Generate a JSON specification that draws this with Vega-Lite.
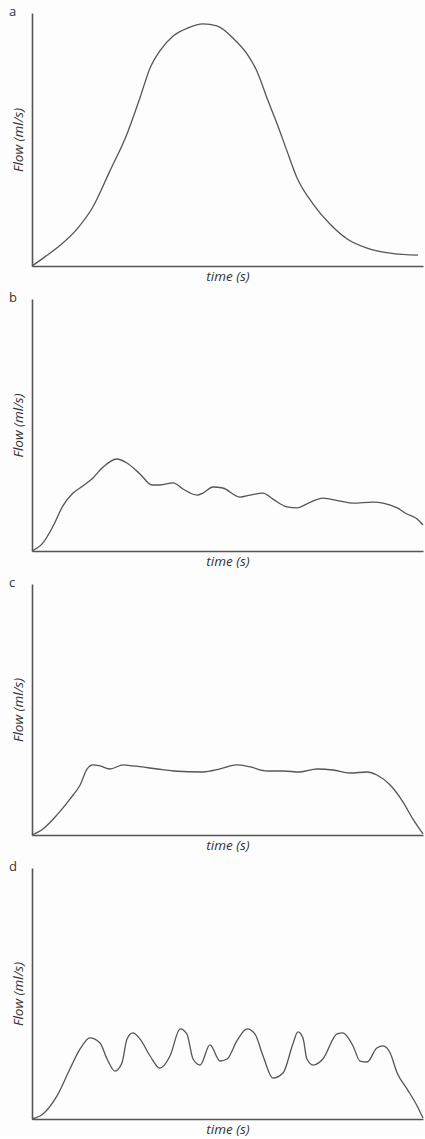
{
  "$schema": "https://vega.github.io/schema/vega-lite/v6.json",
  "background": "#fdfdfd",
  "padding": {"left": 9, "top": 6, "right": 0, "bottom": 0},
  "config": {
    "view": {"stroke": null},
    "concat": {"spacing": 9},
    "axis": {
      "domain": true, "domainColor": "#555555", "domainWidth": 1.6,
      "ticks": false, "labels": false, "grid": false,
      "titleFont": "Open Sans", "titleFontStyle": "italic", "titleFontWeight": "normal",
      "titleFontSize": 13.5, "titleColor": "#333333"
    },
    "title": {"font": "Open Sans", "fontSize": 13, "fontWeight": "normal", "color": "#333333", "anchor": "start", "frame": "group", "offset": -4, "dx": -23, "dy": 2}
  },
  "datasets": {
    "flow": [
      {"panel": "a", "t": 0, "f": 0}, {"panel": "a", "t": 3.3, "f": 3.6}, {"panel": "a", "t": 7.2, "f": 8.2}, {"panel": "a", "t": 11.5, "f": 14.6}, {"panel": "a", "t": 15.6, "f": 23.4}, {"panel": "a", "t": 19.9, "f": 37.5}, {"panel": "a", "t": 24.3, "f": 52.2}, {"panel": "a", "t": 27.6, "f": 66.4}, {"panel": "a", "t": 30.2, "f": 78.3}, {"panel": "a", "t": 32.7, "f": 85.0}, {"panel": "a", "t": 36.1, "f": 90.9}, {"panel": "a", "t": 39.9, "f": 94.1}, {"panel": "a", "t": 43.7, "f": 95.7}, {"panel": "a", "t": 47.3, "f": 94.9}, {"panel": "a", "t": 51.4, "f": 90.1}, {"panel": "a", "t": 55.0, "f": 83.8}, {"panel": "a", "t": 57.5, "f": 77.1}, {"panel": "a", "t": 60.1, "f": 66.4}, {"panel": "a", "t": 62.7, "f": 56.1}, {"panel": "a", "t": 65.2, "f": 45.5}, {"panel": "a", "t": 67.8, "f": 34.8}, {"panel": "a", "t": 71.9, "f": 24.5}, {"panel": "a", "t": 76.2, "f": 16.6}, {"panel": "a", "t": 80.6, "f": 10.7}, {"panel": "a", "t": 85.7, "f": 7.1}, {"panel": "a", "t": 91.6, "f": 5.1}, {"panel": "a", "t": 98.7, "f": 4.3},
      {"panel": "b", "t": 0, "f": 0}, {"panel": "b", "t": 2.8, "f": 3.2}, {"panel": "b", "t": 5.4, "f": 9.9}, {"panel": "b", "t": 7.9, "f": 17.9}, {"panel": "b", "t": 10.5, "f": 23.0}, {"panel": "b", "t": 13.0, "f": 25.8}, {"panel": "b", "t": 15.6, "f": 29.0}, {"panel": "b", "t": 17.9, "f": 32.9}, {"panel": "b", "t": 21.7, "f": 36.5}, {"panel": "b", "t": 24.3, "f": 34.9}, {"panel": "b", "t": 27.6, "f": 30.6}, {"panel": "b", "t": 30.7, "f": 26.2}, {"panel": "b", "t": 32.7, "f": 26.2}, {"panel": "b", "t": 36.1, "f": 27.0}, {"panel": "b", "t": 38.6, "f": 24.6}, {"panel": "b", "t": 42.2, "f": 22.2}, {"panel": "b", "t": 43.7, "f": 23.0}, {"panel": "b", "t": 46.3, "f": 25.4}, {"panel": "b", "t": 48.8, "f": 25.0}, {"panel": "b", "t": 53.2, "f": 21.4}, {"panel": "b", "t": 55.8, "f": 22.2}, {"panel": "b", "t": 59.1, "f": 23.0}, {"panel": "b", "t": 61.6, "f": 20.6}, {"panel": "b", "t": 65.2, "f": 17.5}, {"panel": "b", "t": 67.8, "f": 17.1}, {"panel": "b", "t": 70.3, "f": 18.7}, {"panel": "b", "t": 74.4, "f": 21.0}, {"panel": "b", "t": 78.8, "f": 19.8}, {"panel": "b", "t": 82.1, "f": 19.0}, {"panel": "b", "t": 87.2, "f": 19.4}, {"panel": "b", "t": 89.8, "f": 19.0}, {"panel": "b", "t": 93.4, "f": 17.1}, {"panel": "b", "t": 95.9, "f": 14.7}, {"panel": "b", "t": 98.5, "f": 12.7}, {"panel": "b", "t": 100, "f": 10.3},
      {"panel": "c", "t": 0, "f": 0}, {"panel": "c", "t": 2.8, "f": 2.4}, {"panel": "c", "t": 6.4, "f": 8.0}, {"panel": "c", "t": 9.7, "f": 14.3}, {"panel": "c", "t": 12.3, "f": 19.9}, {"panel": "c", "t": 14.1, "f": 26.3}, {"panel": "c", "t": 15.6, "f": 27.9}, {"panel": "c", "t": 17.4, "f": 27.5}, {"panel": "c", "t": 19.9, "f": 26.3}, {"panel": "c", "t": 23.3, "f": 27.9}, {"panel": "c", "t": 25.8, "f": 27.5}, {"panel": "c", "t": 32.0, "f": 26.3}, {"panel": "c", "t": 36.1, "f": 25.5}, {"panel": "c", "t": 43.7, "f": 25.1}, {"panel": "c", "t": 48.1, "f": 26.3}, {"panel": "c", "t": 52.4, "f": 27.9}, {"panel": "c", "t": 55.8, "f": 27.1}, {"panel": "c", "t": 60.1, "f": 25.5}, {"panel": "c", "t": 64.2, "f": 25.5}, {"panel": "c", "t": 68.5, "f": 25.1}, {"panel": "c", "t": 72.9, "f": 26.3}, {"panel": "c", "t": 77.0, "f": 25.9}, {"panel": "c", "t": 81.3, "f": 24.7}, {"panel": "c", "t": 85.7, "f": 25.1}, {"panel": "c", "t": 88.2, "f": 23.9}, {"panel": "c", "t": 91.6, "f": 19.9}, {"panel": "c", "t": 94.9, "f": 13.1}, {"panel": "c", "t": 97.4, "f": 6.4}, {"panel": "c", "t": 100, "f": 0.4},
      {"panel": "d", "t": 0, "f": 0}, {"panel": "d", "t": 2.8, "f": 2.0}, {"panel": "d", "t": 6.4, "f": 9.2}, {"panel": "d", "t": 9.7, "f": 19.9}, {"panel": "d", "t": 12.3, "f": 27.9}, {"panel": "d", "t": 14.8, "f": 32.3}, {"panel": "d", "t": 17.4, "f": 30.3}, {"panel": "d", "t": 19.2, "f": 23.9}, {"panel": "d", "t": 21.2, "f": 19.1}, {"panel": "d", "t": 23.0, "f": 22.3}, {"panel": "d", "t": 24.3, "f": 31.9}, {"panel": "d", "t": 25.8, "f": 34.3}, {"panel": "d", "t": 27.6, "f": 31.9}, {"panel": "d", "t": 30.2, "f": 25.1}, {"panel": "d", "t": 32.7, "f": 20.3}, {"panel": "d", "t": 35.3, "f": 25.1}, {"panel": "d", "t": 37.9, "f": 35.9}, {"panel": "d", "t": 39.6, "f": 33.9}, {"panel": "d", "t": 41.2, "f": 23.9}, {"panel": "d", "t": 43.0, "f": 21.5}, {"panel": "d", "t": 45.5, "f": 29.5}, {"panel": "d", "t": 48.1, "f": 23.1}, {"panel": "d", "t": 49.9, "f": 23.9}, {"panel": "d", "t": 52.4, "f": 31.1}, {"panel": "d", "t": 55.0, "f": 35.9}, {"panel": "d", "t": 57.0, "f": 33.9}, {"panel": "d", "t": 59.1, "f": 25.1}, {"panel": "d", "t": 61.6, "f": 16.3}, {"panel": "d", "t": 64.2, "f": 18.3}, {"panel": "d", "t": 66.8, "f": 30.3}, {"panel": "d", "t": 68.0, "f": 34.7}, {"panel": "d", "t": 69.3, "f": 32.3}, {"panel": "d", "t": 70.3, "f": 23.9}, {"panel": "d", "t": 71.9, "f": 21.5}, {"panel": "d", "t": 74.4, "f": 23.9}, {"panel": "d", "t": 78.0, "f": 33.9}, {"panel": "d", "t": 79.5, "f": 34.3}, {"panel": "d", "t": 82.1, "f": 29.1}, {"panel": "d", "t": 83.9, "f": 23.1}, {"panel": "d", "t": 85.7, "f": 22.7}, {"panel": "d", "t": 88.2, "f": 28.3}, {"panel": "d", "t": 89.8, "f": 29.1}, {"panel": "d", "t": 91.6, "f": 26.3}, {"panel": "d", "t": 93.4, "f": 18.3}, {"panel": "d", "t": 95.9, "f": 12.0}, {"panel": "d", "t": 98.5, "f": 5.2}, {"panel": "d", "t": 100, "f": 0.4}
    ]
  },
  "vconcat": [
    {
      "title": {"text": "a"},
      "width": 391, "height": 253,
      "data": {"name": "flow"},
      "transform": [{"filter": "datum.panel === 'a'"}],
      "mark": {"type": "line", "interpolate": "monotone", "color": "#555555", "strokeWidth": 1.3},
      "encoding": {
        "x": {"field": "t", "type": "quantitative", "scale": {"domain": [0, 100], "nice": false, "zero": false}, "axis": {"title": "time (s)", "titlePadding": 3}},
        "y": {"field": "f", "type": "quantitative", "scale": {"domain": [0, 100], "nice": false}, "axis": {"title": "Flow (ml/s)", "titlePadding": 7}}
      }
    },
    {
      "title": {"text": "b"},
      "width": 391, "height": 252,
      "data": {"name": "flow"},
      "transform": [{"filter": "datum.panel === 'b'"}],
      "mark": {"type": "line", "interpolate": "monotone", "color": "#555555", "strokeWidth": 1.3},
      "encoding": {
        "x": {"field": "t", "type": "quantitative", "scale": {"domain": [0, 100], "nice": false, "zero": false}, "axis": {"title": "time (s)", "titlePadding": 3}},
        "y": {"field": "f", "type": "quantitative", "scale": {"domain": [0, 100], "nice": false}, "axis": {"title": "Flow (ml/s)", "titlePadding": 7}}
      }
    },
    {
      "title": {"text": "c"},
      "width": 391, "height": 251,
      "data": {"name": "flow"},
      "transform": [{"filter": "datum.panel === 'c'"}],
      "mark": {"type": "line", "interpolate": "monotone", "color": "#555555", "strokeWidth": 1.3},
      "encoding": {
        "x": {"field": "t", "type": "quantitative", "scale": {"domain": [0, 100], "nice": false, "zero": false}, "axis": {"title": "time (s)", "titlePadding": 3}},
        "y": {"field": "f", "type": "quantitative", "scale": {"domain": [0, 100], "nice": false}, "axis": {"title": "Flow (ml/s)", "titlePadding": 7}}
      }
    },
    {
      "title": {"text": "d"},
      "width": 391, "height": 251,
      "data": {"name": "flow"},
      "transform": [{"filter": "datum.panel === 'd'"}],
      "mark": {"type": "line", "interpolate": "monotone", "color": "#555555", "strokeWidth": 1.3},
      "encoding": {
        "x": {"field": "t", "type": "quantitative", "scale": {"domain": [0, 100], "nice": false, "zero": false}, "axis": {"title": "time (s)", "titlePadding": 3}},
        "y": {"field": "f", "type": "quantitative", "scale": {"domain": [0, 100], "nice": false}, "axis": {"title": "Flow (ml/s)", "titlePadding": 7}}
      }
    }
  ]
}
